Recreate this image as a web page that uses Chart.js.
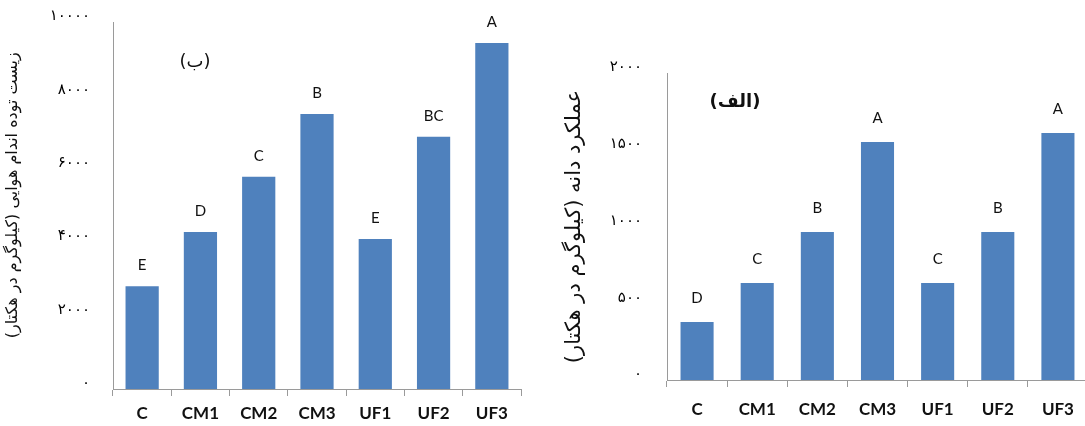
<!DOCTYPE html>
<html>
<head>
<meta charset="utf-8">
<script src="https://cdn.jsdelivr.net/npm/chart.js@4"></script>
<style>
  html, body { margin: 0; padding: 0; background: #fff; overflow: hidden; width: 1085px; height: 426px; }
  .box { position: absolute; top: 0; height: 426px; }
  #left-box { left: 0; width: 540px; }
  #right-box { left: 560px; width: 540px; }
</style>
</head>
<body>
<div class="box" id="left-box"><canvas id="leftChart" dir="rtl" width="540" height="426"></canvas></div>
<div class="box" id="right-box"><canvas id="rightChart" dir="rtl" width="540" height="426"></canvas></div>
<script>
const categories = ["C", "CM1", "CM2", "CM3", "UF1", "UF2", "UF3"];

// (ب) biomass
const biomass = [2800, 4280, 5780, 7490, 4090, 6870, 9430];
const biomassLetters = ["E", "D", "C", "B", "E", "BC", "A"];
const biomassTicks = ["۰", "۲۰۰۰", "۴۰۰۰", "۶۰۰۰", "۸۰۰۰", "۱۰۰۰۰"];

// (الف) grain yield
const grain = [378, 632, 964, 1550, 632, 964, 1609];
const grainLetters = ["D", "C", "B", "A", "C", "B", "A"];
const grainTicks = ["۰", "۵۰۰", "۱۰۰۰", "۱۵۰۰", "۲۰۰۰"];

const barColor = "#4f81bd";
const axisColor = "#9a9a9a";

// letters above bars + panel tag
function lettersPlugin(letters, tag, tagFont, tagDx, tagDy, gap) {
  return {
    id: "letters",
    afterDatasetsDraw(chart) {
      const ctx = chart.ctx;
      const meta = chart.getDatasetMeta(0);
      ctx.save();
      ctx.fillStyle = "#111";
      ctx.textAlign = "center";
      ctx.textBaseline = "middle";
      ctx.font = "15px Lato";
      meta.data.forEach((bar, i) => {
        ctx.fillText(letters[i], bar.x, bar.y - gap);
      });
      ctx.font = tagFont;
      ctx.fillText(tag, chart.chartArea.left + tagDx, chart.chartArea.top + tagDy);
      ctx.restore();
    },
  };
}

function makeChart(id, values, letters, ticks, max, step, opts) {
  const ctx = document.getElementById(id).getContext("2d");
  return new Chart(ctx, {
    type: "bar",
    data: {
      labels: categories,
      datasets: [
        {
          data: values,
          backgroundColor: barColor,
          borderWidth: 0,
          categoryPercentage: 1,
          barPercentage: opts.barPct,
        },
      ],
    },
    options: {
      responsive: false,
      animation: false,
      layout: { padding: { top: opts.top, right: opts.right, left: 0, bottom: 0 } },
      plugins: { legend: { display: false }, tooltip: { enabled: false } },
      scales: {
        x: {
          grid: { drawOnChartArea: false, drawTicks: true, tickLength: 7, color: axisColor, offset: true },
          border: { color: axisColor },
          ticks: { color: "#111", font: { family: "Lato", size: 17, weight: "bold" }, padding: opts.xPad, maxRotation: 0 },
          afterFit(scale) { scale.height = opts.xHeight; },
        },
        y: {
          min: 0,
          max: max,
          grid: { display: false, drawTicks: false },
          border: { display: true, color: axisColor },
          ticks: {
            stepSize: step,
            padding: opts.yPad,
            color: "#000",
            font: { family: "DejaVu Sans", size: 15, lineHeight: 0.75 },
            callback: (v, i) => [ticks[i], ""],
          },
          title: {
            display: true,
            text: opts.title,
            color: "#111",
            font: { family: "DejaVu Sans", size: opts.titleSize },
            padding: { top: opts.titleTop, bottom: 0 },
          },
          afterFit(scale) {
            scale.width = opts.yWidth;
            scale.paddingTop = 0;
            scale.paddingBottom = 0;
          },
        },
      },
    },
    plugins: [lettersPlugin(letters, opts.tag, opts.tagFont, opts.tagDx, opts.tagDy, opts.gap)],
  });
}

makeChart("leftChart", biomass, biomassLetters, biomassTicks, 10000, 2000, {
  barPct: 0.57, top: 22, right: 19, xHeight: 37, xPad: 7, yPad: 23, yWidth: 113,
  title: "زیست توده اندام هوایی (کیلوگرم در هکتار)" + "\u00a0".repeat(4), titleSize: 16, titleTop: 3,
  tag: "(ب)", tagFont: "18px 'DejaVu Sans'", tagDx: 82, tagDy: 40, gap: 21,
});

makeChart("rightChart", grain, grainLetters, grainTicks, 2000, 500, {
  barPct: 0.55, top: 73, right: 12, xHeight: 46, xPad: 12, yPad: 25, yWidth: 107,
  title: "عملکرد دانه (کیلوگرم در هکتار)", titleSize: 21, titleTop: 2,
  tag: "(الف)", tagFont: "bold 18px 'DejaVu Sans'", tagDx: 68, tagDy: 29, gap: 24,
});
</script>
</body>
</html>
